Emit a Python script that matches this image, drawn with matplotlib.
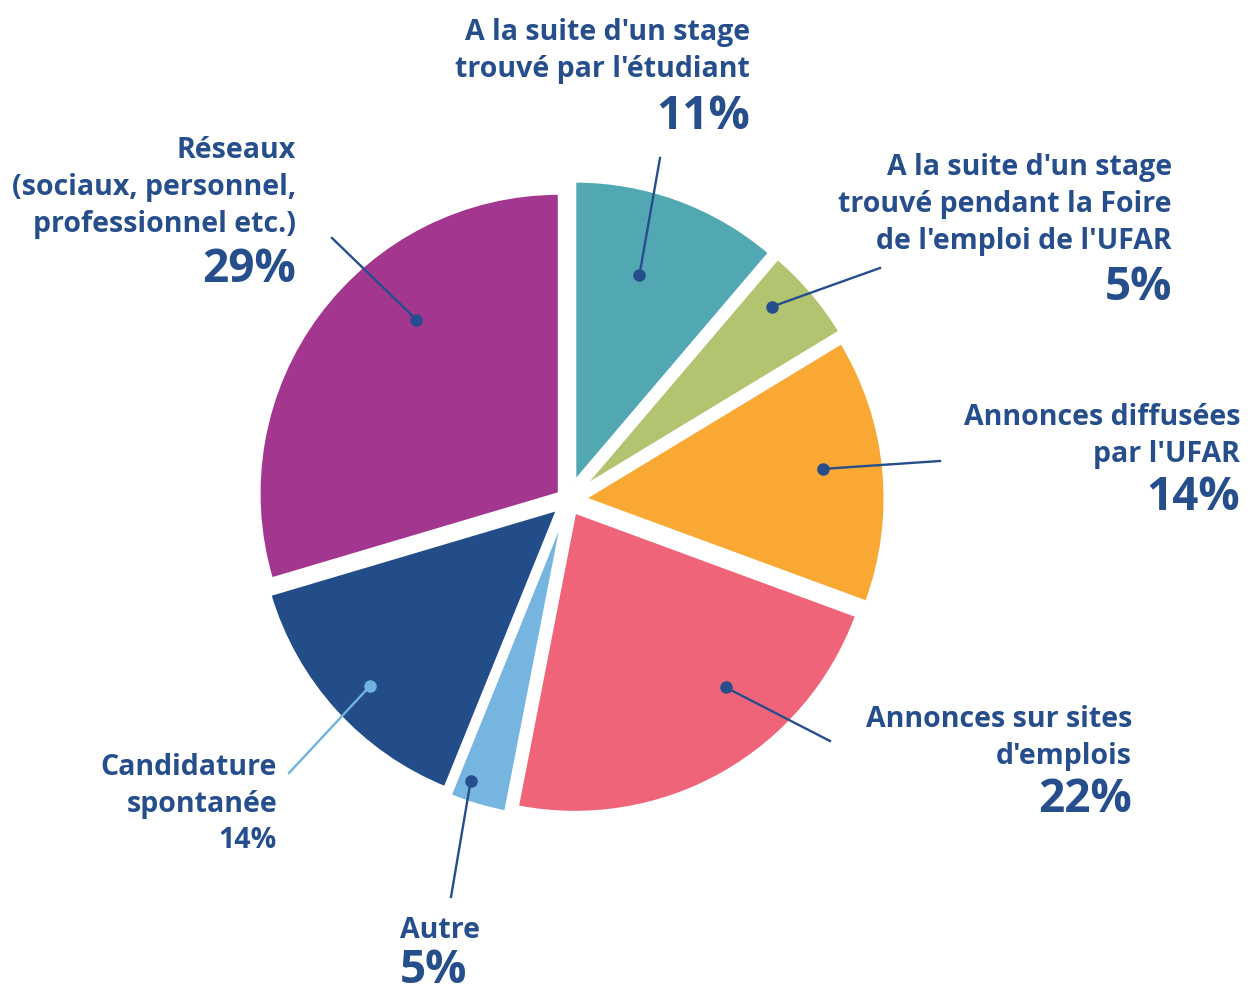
import numpy as np
import matplotlib
matplotlib.use('Agg')
import matplotlib.pyplot as plt

plt.rcParams['font.family'] = ['Open Sans', 'DejaVu Sans']

# Données (sens horaire depuis le haut)
labels = [
    "A la suite d'un stage\ntrouvé par l'étudiant",
    "A la suite d'un stage\ntrouvé pendant la Foire\nde l'emploi de l'UFAR",
    "Annonces diffusées\npar l'UFAR",
    "Annonces sur sites\nd'emplois",
    "Autre",
    "Candidature\nspontanée",
    "Réseaux\n(sociaux, personnel,\nprofessionnel etc.)",
]
pct_labels = ["11%", "5%", "14%", "22%", "5%", "14%", "29%"]
values = [11, 5, 14, 22, 3, 14, 29]
colors = ['#52A8B2', '#B2C46F', '#F9A834', '#EF6479', '#76B5DF', '#234D89', '#A3368F']
# décalage des parts (pixels)
explode = [20, 20, 17, 14, 18, 14, 11]

text_color = '#264E8C'
W, H = 1248, 996

# position du point dans la part : (fraction angulaire, fraction du rayon)
dot_pos = [(0.43, 0.72), (0.32, 0.87), (0.47, 0.80), (0.36, 0.77),
           (0.75, 0.93), (0.48, 0.86), (0.63, 0.75)]
# extrémité des traits (pixels)
line_end = [(660, 158), (880, 268), (940, 461), (830, 741),
            (451, 897), (289, 773), (332, 238)]
line_colors = [text_color] * 5 + ['#6FB3DE', text_color]

# textes : (x, baseline première ligne, ha, baseline du pourcentage, grand ?)
text_pos = [
    (750, 40, 'right', 129, True),
    (1172, 175, 'right', 300, True),
    (1240, 425, 'right', 510, True),
    (1132, 727, 'right', 812, True),
    (400, 938, 'left', 983, True),
    (277, 775, 'right', 848, False),
    (296, 158, 'right', 282, True),
]

fig = plt.figure(figsize=(W / 100, H / 100), dpi=100)
ax = fig.add_axes([0, 0, 1, 1])

cx, cy, r = 568, H - 500, 300
wedges, _ = ax.pie(values, colors=colors, startangle=90, counterclock=False,
                   center=(cx, cy), radius=r, explode=explode, frame=True,
                   wedgeprops=dict(edgecolor='white', linewidth=2))
ax.set_xlim(0, W)
ax.set_ylim(0, H)
ax.axis('off')

line_step = 37
for i, w in enumerate(wedges):
    f, rf = dot_pos[i]
    ang = np.deg2rad(w.theta2 - f * (w.theta2 - w.theta1))
    wx, wy = w.center
    dx = wx + rf * r * np.cos(ang)
    dy = wy + rf * r * np.sin(ang)
    ex, ey = line_end[i]
    ax.plot([dx, ex], [dy, H - ey], color=line_colors[i], lw=1.7, zorder=5)
    ax.plot(dx, dy, 'o', color=line_colors[i], ms=8, zorder=6)

    x, b, ha, pb, big = text_pos[i]
    for k, line in enumerate(labels[i].split('\n')):
        ax.text(x, H - (b + k * line_step), line, ha=ha, va='baseline',
                fontsize=20.5, fontweight='bold', color=text_color)
    ax.text(x, H - pb, pct_labels[i], ha=ha, va='baseline',
            fontsize=33 if big else 20.5, fontweight='bold', color=text_color)

fig.savefig('out.png', dpi=100)
